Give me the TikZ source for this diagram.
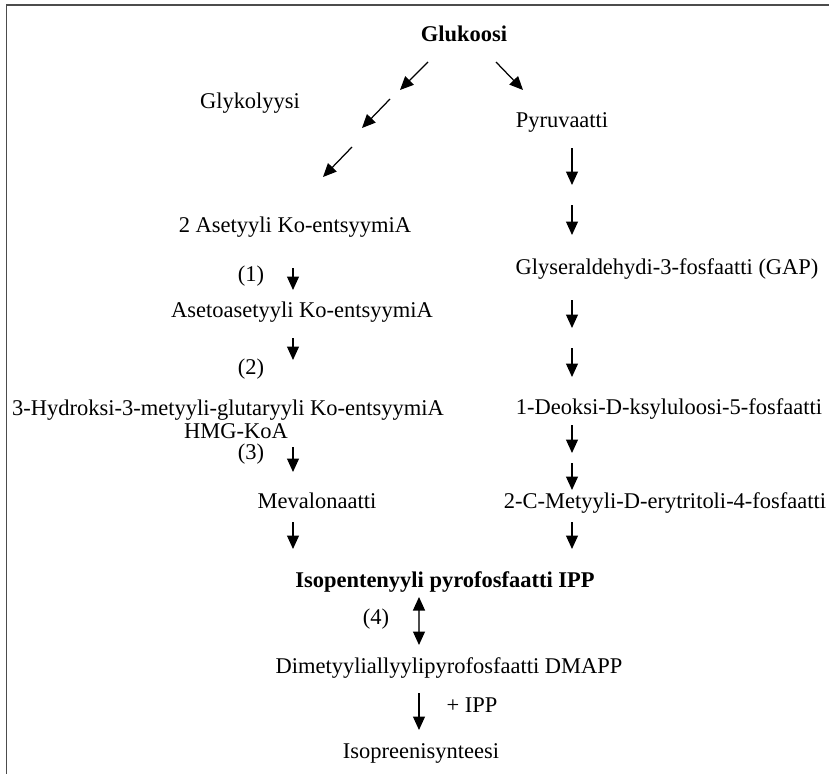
\documentclass[tikz,border=0pt]{standalone}
\usepackage{fontspec}
\setmainfont{Liberation Serif}
\usetikzlibrary{arrows.meta}

\begin{document}
\begin{tikzpicture}[
    x=0.02cm, y=-0.02cm,
    txt/.style={anchor=base, inner sep=0pt, font=\fontsize{12.8}{15}\selectfont},
    bold/.style={txt, font=\fontsize{12.8}{15}\selectfont\bfseries},
    tip/.tip={Triangle[length=0.27cm, width=0.24cm, color=black]},
    arr/.style={-tip, line width=0.7pt},
    dblarr/.style={tip-tip, line width=0.7pt, draw=black!70},
    frame/.style={draw=black!70, line width=1.1pt}
]
    \useasboundingbox (0,0) rectangle (829,774);

    \coordinate (fbl) at (6.5,774);
    \coordinate (ftl) at (6.5,5.3);
    \coordinate (ftr) at (829,5.3);
    \draw[frame] (fbl) -- (ftl) -- (ftr);

    \node[bold] (glc)   at (464, 41) {Glukoosi};
    \node[txt]  (gly)   at (250,108) {Glykolyysi};
    \node[txt]  (pyr)   at (562,127) {Pyruvaatti};
    \node[txt]  (acoa)  at (295,232) {2 Asetyyli Ko-entsyymiA};
    \node[txt]  (gap)   at (667,274) {Glyseraldehydi-3-fosfaatti (GAP)};
    \node[txt]  (n1)    at (251,281) {(1)};
    \node[txt]  (aacoa) at (302,317) {Asetoasetyyli Ko-entsyymiA};
    \node[txt]  (n2)    at (251,374) {(2)};
    \node[txt]  (dxp)   at (669,414) {1-Deoksi-D-ksyluloosi-5-fosfaatti};
    \node[txt]  (hmg)   at (228,415) {3-Hydroksi-3-metyyli-glutaryyli Ko-entsyymiA};
    \node[txt]  (hmgk)  at (236,438) {HMG-KoA};
    \node[txt]  (n3)    at (251,459) {(3)};
    \node[txt]  (mev)   at (317,508) {Mevalonaatti};
    \node[txt]  (mep)   at (665,508) {2-C-Metyyli-D-erytritoli-4-fosfaatti};
    \node[bold] (ipp)   at (445,587) {Isopentenyyli pyrofosfaatti IPP};
    \node[txt]  (n4)    at (376,624) {(4)};
    \node[txt]  (dma)   at (449,673) {Dimetyyliallyylipyrofosfaatti DMAPP};
    \node[txt]  (plus)  at (472,712) {+ IPP};
    \node[txt]  (iso)   at (421,758) {Isopreenisynteesi};

    \coordinate (g1a) at (428, 62);  \coordinate (g1b) at (400, 90);
    \coordinate (g2a) at (390, 99);  \coordinate (g2b) at (362,128);
    \coordinate (g3a) at (352,147);  \coordinate (g3b) at (323,177);
    \coordinate (gpa) at (496, 62);  \coordinate (gpb) at (523, 90);

    \coordinate (p1a) at (572,148);  \coordinate (p1b) at (572,185);
    \coordinate (p2a) at (572,205);  \coordinate (p2b) at (572,235);
    \coordinate (p3a) at (572,300);  \coordinate (p3b) at (572,328);
    \coordinate (p4a) at (572,348);  \coordinate (p4b) at (572,377);
    \coordinate (p5a) at (572,425);  \coordinate (p5b) at (572,453);
    \coordinate (p6a) at (572,463);  \coordinate (p6b) at (572,490);
    \coordinate (p7a) at (572,522);  \coordinate (p7b) at (572,549);

    \coordinate (m1a) at (293,268);  \coordinate (m1b) at (293,290);
    \coordinate (m2a) at (293,338);  \coordinate (m2b) at (293,360);
    \coordinate (m3a) at (293,447);  \coordinate (m3b) at (293,472);
    \coordinate (m4a) at (293,522);  \coordinate (m4b) at (293,549);

    \coordinate (i1a) at (419,597);  \coordinate (i1b) at (419,645);
    \coordinate (i2a) at (419,693);  \coordinate (i2b) at (419,730);

    \draw[arr] (g1a) -- (g1b);
    \draw[arr] (g2a) -- (g2b);
    \draw[arr] (g3a) -- (g3b);
    \draw[arr] (gpa) -- (gpb);

    \draw[arr] (p1a) -- (p1b);
    \draw[arr] (p2a) -- (p2b);
    \draw[arr] (p3a) -- (p3b);
    \draw[arr] (p4a) -- (p4b);
    \draw[arr] (p5a) -- (p5b);
    \draw[arr] (p6a) -- (p6b);
    \draw[arr] (p7a) -- (p7b);

    \draw[arr] (m1a) -- (m1b);
    \draw[arr] (m2a) -- (m2b);
    \draw[arr] (m3a) -- (m3b);
    \draw[arr] (m4a) -- (m4b);

    \draw[dblarr] (i1a) -- (i1b);
    \draw[arr]    (i2a) -- (i2b);
\end{tikzpicture}
\end{document}
